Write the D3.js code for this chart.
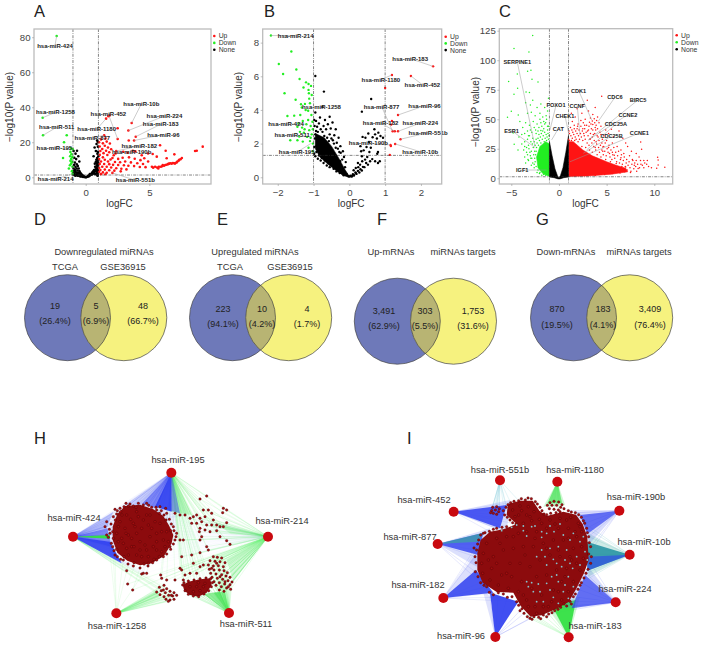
<!DOCTYPE html>
<html><head><meta charset="utf-8">
<script src="https://cdn.jsdelivr.net/npm/d3@7"></script>
<style>html,body{margin:0;padding:0;background:#fff}text{font-family:"Liberation Sans",Arial,sans-serif}</style>
</head><body><svg id="c" width="714" height="650"></svg>
<script>
/* ---------- volcano data: [logFC, -log10 P] ---------- */
const aDown=[[-2.28,80.7],[-3.38,34],[-3.35,24],[-1.49,24],[-1.7,20],[-1.78,11],[-1.15,16.5],[-1.02,16],[-1.2,14.5],[-1.12,13.2],[-1.22,12],[-1.05,11.5],[-1.14,10.4],[-1.2,9.4],[-1.06,8.8],[-1.15,7.8],[-1.24,6.9],[-1.04,6],[-1.32,5],[-1.08,3.5],[-1.03,2]];
const aNone=[[-0.95,15],[-0.8,13.5],[-0.68,15.2],[-0.58,12],[-0.9,11.2],[-0.75,10.4],[-0.5,9],[-0.85,8.4],[-0.7,7.4],[-0.62,6.4],[-0.92,7],[-0.8,6],[-0.95,5],[-0.72,5],[-0.55,5],[-0.85,4.2],[-0.65,3.9],[-0.95,3.4],[-0.8,3.1],[-0.5,3.6],[-0.7,2.6],[-0.9,2.2],[-0.6,2.6],[-0.45,2.8],[-0.38,2.2],[-0.52,1.9],[-0.66,1.7],[-0.8,1.6],[-0.32,1.6],[-0.42,1.3],[-0.25,1.1],[-0.34,0.9],[-0.18,0.7],[-0.28,0.5],[-0.12,0.4],[-0.2,0.2],[-0.06,0.1],[0,0],[0.06,0.1],[0.12,0.3],[0.18,0.5],[0.26,0.6],[0.22,1],[0.3,1],[0.36,1.3],[0.42,1.6],[0.32,1.8],[0.5,1.6],[0.46,2.2],[0.56,2.1],[0.62,2.5],[0.52,2.9],[0.68,3],[0.6,3.5],[0.72,3.7],[0.82,3.4],[0.66,4.2],[0.78,4.6],[0.88,4.1],[0.93,3],[0.95,1.9],[0.86,2.3],[0.78,1.7],[0.7,1.9],[0.92,1.2],[0.98,2.6],[0.96,4],[0.9,5],[0.98,5.4],[0.84,5.6],[0.94,6.2],[0.74,6],[0.88,6.9],[0.98,7],[0.92,7.8],[0.98,8.4],[0.86,8.2],[0.92,9.2],[0.98,9.8],[0.8,8.9],[0.72,7.8],[0.96,10.2],[0.84,10],[0.62,12],[0.8,15],[0.7,17],[0.85,19],[0.95,20.2],[0.9,21],[0.96,17.5],[0.92,13.5],[0.99,12],[0.97,14.5],[0.9,11],[0.98,3.4],[0.94,0.9],[-0.96,2.6],[-0.88,1.5],[-0.72,1.2],[-0.6,1.3],[-0.5,0.9],[-0.62,0.9],[-0.82,0.9],[-0.45,0.6],[-0.98,1.6],[-0.38,0.5]];
const aUp=[[1.78,34.9],[1.86,35.2],[1.6,33.5],[2.51,28],[3.61,31],[3.35,26.7],[3.93,23.2],[2.51,21.9],[3.38,21],[3.8,21],[5.84,18.3],[9.19,17.5],[8.72,15.2],[8.59,15],[6.28,15.2],[6.96,13.1],[6.36,10.9],[5.58,11.8],[5.26,13.3],[4.9,13.6],[4.4,12.6],[3.9,14.8],[3.7,15.2],[3.3,14],[2.95,14.6],[2.4,15],[2.2,12.6],[1.45,24],[1.55,22.2],[1.2,21.6],[1.65,20.4],[1.35,19.4],[1.05,20],[1.9,19.3],[1.5,18],[1.1,17.6],[1.75,17],[1.3,16.2],[2,16],[1.6,15.2],[1.15,15],[1.85,14.3],[2.35,13.6],[1.4,13.8],[1.1,12.8],[1.7,12.7],[2.1,11],[1.35,11.4],[1.95,10.2],[2.55,10.5],[2.9,11.2],[3.4,11.4],[3.85,10.6],[4.3,9.8],[4.6,10.9],[4.9,9],[1.05,10.4],[1.5,10],[1.2,9],[1.75,9],[2.3,8.7],[2.7,8.6],[3.1,9],[3.55,8.5],[4.05,8],[4.5,7.6],[1.1,7.6],[1.45,7.6],[1.85,7.5],[2.15,7.1],[2.55,7],[3,6.9],[3.35,6.6],[3.8,6.4],[4.25,5.9],[4.7,5.8],[1.3,6],[1.65,6],[1.05,5.4],[2,5.6],[2.4,5.2],[2.8,4.9],[3.2,4.5],[1.15,4.2],[1.5,4.4],[1.85,4],[2.25,3.8],[2.75,3.4],[1.05,3],[1.35,2.8],[1.65,2.6],[2.1,2.5],[1.2,1.8],[1.55,1.7],[5.2,6],[5.3,5.5],[5.45,6],[5.6,5.6],[5.7,5],[5.75,6],[5.9,6],[6,6.3],[6.05,7],[6.15,6.6],[6.25,7],[6.35,7.2],[6.45,7.5],[6.5,7.6],[6.55,7.8],[6.65,8],[6.75,7.8],[6.85,8.2],[6.95,8],[7,7.9],[7.05,8.1],[7.15,8.5],[7.2,9],[7.3,9.5],[7.35,10],[7.45,10.3],[7.55,11]];
const bDown=[[-2.19,8.42],[-1.62,7.47],[-1.97,6.73],[-1.85,6.14],[-1.48,6.4],[-1.39,5.84],[-1.21,5.64],[-1.14,5.54],[-1.28,5.33],[-1.07,5.43],[-1.14,5.19],[-1.81,4.99],[-1.13,4.99],[-1.05,4.89],[-1.5,4.61],[-1.12,4.67],[-1.35,4.34],[-1.24,4.36],[-1.1,4.4],[-1.33,4.15],[-1.22,4],[-1.15,3.95],[-1.73,3.64],[-1.54,3.66],[-1.37,3.7],[-1.06,3.7],[-1.3,3.35],[-1.15,3.4],[-1.03,3.3],[-1.42,3.2],[-1.2,3.15],[-1.08,3.05],[-1.32,2.95],[-1.45,3],[-1.25,2.85],[-1.12,2.8],[-1.02,2.85],[-1.38,2.7],[-1.27,2.65],[-1.05,2.55],[-1.4,2.42],[-1.18,2.4],[-1.08,2.35],[-1.65,2.2],[-1.45,2.2],[-1.3,2.12],[-1.1,2.15],[-1.02,2],[-1.14,1.75],[-1.02,1.55]];
const bNone=[[-0.95,6.02],[-0.71,5.09],[-0.75,4.18],[-0.95,3.85],[-0.55,3.6],[-0.82,3.55],[-0.68,3.4],[-0.93,3.35],[-0.47,3.25],[-0.6,3.15],[-0.85,3.2],[-0.72,3.05],[-0.97,3.05],[-0.52,2.9],[-0.38,2.85],[-0.65,2.85],[-0.8,2.85],[-0.93,2.75],[-0.42,2.5],[-0.3,2.35],[-0.55,2.55],[-0.46,2.2],[-0.35,2.05],[-0.25,1.85],[-0.18,1.55],[-0.28,1.5],[-0.15,1.2],[-0.1,0.9],[-0.96,2.3],[-0.98,1.8],[-0.92,1.5],[-0.85,1.3],[-0.77,1.15],[-0.68,1],[-0.58,0.85],[-0.48,0.7],[-0.4,0.55],[-0.32,0.42],[-0.22,0.25],[-0.08,0.2],[-0.02,0.06],[0.03,0.1],[0.07,0.05],[0.1,0.18],[0.13,0.1],[0.17,0.28],[0.2,0.2],[0.24,0.38],[0.28,0.28],[0.31,0.48],[0.35,0.4],[0.38,0.62],[0.25,0.6],[0.18,0.55],[0.12,0.42],[0.3,0.75],[0.42,0.6],[0.47,0.85],[0.36,0.95],[0.24,0.85],[0.52,0.75],[0.44,1.05],[0.58,0.95],[0.5,1.2],[0.35,1.25],[0.64,1.08],[0.72,0.95],[0.8,0.85],[0.85,0.95],[0.78,1.4],[0.8,1.5],[0.56,1.5],[0.33,1.55],[0.4,1.6],[0.6,1.75],[0.48,1.8],[0.31,1.85],[0.55,2.1],[0.37,2.4],[0.65,2.38],[0.72,2.55],[0.7,2.85],[0.77,2.3],[0.87,2.45],[0.94,2.35],[0.81,2.65],[0.35,3.9],[0.61,4.65],[0.53,2.6],[0.45,2.35],[-0.98,3.4],[-0.9,3],[-0.88,2.7],[-0.95,2.55],[-0.75,2.7],[-0.7,2.45],[-0.62,2.35],[-0.57,2.15],[-0.5,2.3],[-0.43,2],[-0.38,1.75],[-0.32,1.7],[-0.24,1.45],[-0.98,1.4],[-0.95,1.25],[-0.88,1.1],[-0.8,1],[-0.72,0.85],[-0.63,0.7],[-0.55,0.6],[-0.44,0.5],[-0.36,0.35],[-0.27,0.25],[-0.16,0.12],[-0.9,2.1],[-0.83,2.35],[-0.76,1.95],[-0.67,2],[-0.2,1.05],[-0.26,0.95],[-0.12,0.6],[-0.7,1.55],[-0.92,1.85],[-0.84,1.65]];
const bUp=[[2.34,6.59],[1.72,6.02],[1.19,6.08],[1,5.31],[1.36,3.7],[1.19,3.35],[1.17,3.13],[1.21,2.73],[1.27,2.73],[1.36,2.73],[1.43,2.26],[1.28,1.98],[1.15,1.92],[1.16,1.86],[1.13,1.33]];
const bNoneCloud=[[-0.95,2.6],[-0.7,2.35],[-0.5,1.85],[-0.3,1.15],[-0.12,0.45],[0,0.05],[0.14,0.18],[0.28,0.45],[0.1,0.05],[0,-0.01],[-0.18,0.12],[-0.38,0.42],[-0.58,0.75],[-0.82,1.2],[-0.95,1.7]];
const cNoneCloud=[[-1,1.2],[-1,31],[-0.72,19],[-0.42,8],[-0.16,2.2],[0,0.3],[0.16,2.4],[0.42,9],[0.72,22],[1,36],[1,1.2],[0.5,0.5],[0.1,-0.5],[-0.1,-0.5],[-0.5,0.5]];
const cDownCloud=[[-1,1.6],[-1,29],[-1.4,31],[-2,27],[-2.35,18],[-2.2,9],[-1.7,4]];
const cUpCloud=[[1,1.6],[1,31],[1.5,31],[2.5,24],[3.5,19],[5,14],[6,11],[7,8.5],[7.2,5.5],[5.5,3.5],[3,2]];
const cDown=[[-2.76,121],[-4.72,110],[-3.15,107],[-3.29,90.7],[-2.94,91.5],[-4.37,88.4],[-2.83,83.9],[-5.28,81.9],[-2.2,81.5],[-4.34,76.3],[-4.72,71.2],[-3.45,73],[-3.1,72.6],[-1.1,67.8],[-5,56.8],[-5.4,51.7],[-4.8,38.4],[-4.7,28.8],[-4.27,53.7],[-4.1,48],[-3.5,64],[-3,62],[-2.75,66],[-2.3,60],[-1.9,63],[-1.5,60],[-1.2,57],[-3.3,55],[-2.9,56],[-2.5,53],[-2,55],[-1.7,52],[-1.3,50],[-3.8,43],[-3.5,47],[-3.1,45],[-2.7,48],[-2.3,46],[-1.9,47],[-1.5,46],[-1.1,44],[-4.2,35],[-3.9,37],[-3.6,38],[-3.3,40],[-3,41],[-2.6,43],[-2.1,43],[-1.6,42],[-1.2,41],[-4.3,24],[-3.9,29],[-3.6,31],[-3.3,33],[-3.1,36],[-3.7,24],[-3.4,26],[-3.2,28],[-3.6,18],[-3.3,20],[-3.05,22],[-3.5,13],[-3.2,15],[-2.95,17],[-2.9,11],[-2.6,9],[-2.3,5],[-2.05,4],[-1.8,2.6],[-2.95,31],[-2.75,34],[-2.4,38],[-1.9,40.5],[-1.05,36],[-1.1,33],[-1.15,38],[-1.25,35],[-1.3,32],[-1.35,37],[-1.45,34],[-1.5,39],[-1.55,31],[-1.65,36],[-1.7,40],[-1.75,33],[-1.85,38],[-1.9,30],[-1.95,35],[-2.05,32],[-2.1,37],[-2.15,28],[-2.2,34],[-2.3,30],[-2.35,26],[-2.4,33],[-2.5,28],[-2.55,23],[-2.6,31],[-2.65,20],[-2.7,26],[-2.8,29],[-2.85,17],[-2.9,23],[-2.5,14],[-2.6,12],[-2.4,10],[-2.75,13],[-2.2,7],[-2,5],[-1.6,3.2],[-1.4,2.6],[-3,19],[-3.15,25],[-3.25,16],[-3.4,22],[-3.6,27],[-2.45,41],[-2.85,39],[-3.2,36],[-2.45,20],[-2.55,17],[-2.4,23],[-1.2,44],[-1.4,47],[-1.8,44],[-2.2,40],[-1.35,53],[-1.6,48],[-2,50]];
const cUp=[[4.48,69.5],[2.97,66],[3.8,60],[2.5,62],[1.9,59],[1.3,55],[3.1,57],[3.55,54],[4.05,52],[2.4,55],[1.7,52],[3.3,51],[3.7,50.5],[3.95,49],[3.5,48.5],[3.2,47.5],[3.75,47],[4.2,47],[3.55,45.5],[3.9,45],[2.75,50],[2.3,49],[1.4,48],[2,46],[2.7,45],[3.15,44],[4.4,44],[4.9,41],[5.5,41.5],[3.4,42],[3.85,41],[2.5,42],[3,40],[4.3,39],[6.3,40],[5.2,38],[4.7,36],[3.6,37],[4.1,35],[5.7,35],[6.7,34],[5,32],[5.6,30],[4.5,30],[3.9,31],[7,30],[8.57,30.8],[6.1,27],[7.2,27],[5.2,26],[4.6,26.5],[8.67,24.6],[6.5,24],[7.6,23],[8.1,21],[5.6,22],[6.8,21],[7.4,19],[8.4,18],[8.9,15],[10.35,17.8],[10.4,15.5],[9.27,15],[11.1,9.3],[10.25,8.5],[10.4,11.3],[9.2,12],[8.6,12],[8.1,15],[7.7,16],[8.3,8.2],[7.9,11],[8.9,9],[7.5,5],[6.9,5.5],[6.4,4.5],[5.6,4],[4.8,3.2],[3.8,2.3],[7.1,16],[6.5,17.5],[5.8,19.5],[5.3,21],[4.6,23],[3.8,26],[3.3,33.5],[2.6,38],[1.9,42],[1.6,45],[1.05,40],[1.1,38],[1.2,43],[1.25,36],[1.35,41],[1.4,34],[1.45,39],[1.55,37],[1.6,42],[1.7,35],[1.75,40],[1.8,33],[1.9,38],[1.95,44],[2.05,36],[2.1,41],[2.15,33],[2.25,38],[2.3,44],[2.35,35],[2.45,40],[2.5,32],[2.55,47],[2.65,36],[2.7,42],[2.75,33],[2.85,39],[2.9,45],[2.95,30],[3.05,36],[3.1,41],[3.15,28],[3.25,33],[3.3,38],[3.35,46],[3.45,30],[3.5,35],[3.55,41],[3.65,27],[3.7,32],[3.75,38],[3.8,43],[3.85,24],[3.95,29],[4,36],[4.05,42],[4.15,26],[4.2,32],[4.25,22],[4.35,28],[4.4,37],[4.5,24],[4.55,33],[4.65,20],[4.7,27],[4.8,23],[4.85,30],[4.95,19],[5.05,25],[5.15,22],[5.25,28],[5.35,18],[5.45,24],[5.55,16],[5.65,20],[5.75,26],[5.85,17],[5.95,22],[6.05,14],[6.15,19],[6.25,23],[6.35,13],[6.45,16],[6.55,20],[6.65,12],[6.75,15],[6.85,18],[6.95,10],[7.05,13],[7.15,7],[7.25,11],[7.35,14],[7.45,9],[7.55,6],[7.65,12],[7.75,15],[7.85,8],[7.95,13],[8.05,10],[8.15,6],[8.25,12],[8.45,9],[8.55,15],[8.75,11],[9,13],[9.4,10],[9.7,9],[1.02,33],[1.08,32],[1.3,32],[1.65,32],[2,31],[2.4,27],[2.8,26],[3.2,24],[3.5,22],[4,20],[4.4,18],[4.9,16],[5.4,14],[6,12.5],[6.6,10],[7,9.5]];
/* ---------- annotations: [label, point x, point y, label x, label y] in data units ---------- */
const aLabels=[["hsa-miR-424",-2.28,80.7,-2.41,75.2],["hsa-miR-1258",-3.38,34,-2.38,37.1],["hsa-miR-511",-3.35,24,-2.28,28.6],["hsa-miR-195",-1.1,16,-2.46,16.8],["hsa-miR-214",-1.05,2,-2.36,-1.1],["hsa-miR-10b",3.61,31,4.37,41.9],["hsa-miR-224",3.35,26.7,6.18,35],["hsa-miR-183",3.93,23.2,5.89,30.3],["hsa-miR-96",3.8,21,6.1,24.4],["hsa-miR-452",2.51,21.9,1.78,36],["hsa-miR-1180",1.6,33.5,0.86,27.4],["hsa-miR-877",1.45,24,0.52,22.5],["hsa-miR-182",2.4,15,4.21,17.9],["hsa-miR-190b",3.7,15.2,3.61,14.3],["hsa-miR-551b",2.1,2.5,3.9,-1.7]];
const bLabels=[["hsa-miR-214",-2.19,8.42,-1.5,8.42],["hsa-miR-1258",-0.75,4.18,-0.78,4.18],["hsa-miR-424",-1.2,3.15,-1.77,3.17],["hsa-miR-511",-1.18,2.4,-1.6,2.5],["hsa-miR-195",-1.08,2.0,-1.47,1.48],["hsa-miR-183",2.34,6.59,1.7,7.05],["hsa-miR-1180",1.19,6.08,0.88,5.8],["hsa-miR-452",1.72,6.02,2.04,5.5],["hsa-miR-877",1.21,2.73,0.9,4.21],["hsa-miR-96",1.36,3.7,2.1,4.25],["hsa-miR-182",1.27,2.73,0.87,3.25],["hsa-miR-224",1.36,2.73,1.98,3.22],["hsa-miR-551b",1.43,2.26,2.2,2.65],["hsa-miR-190b",1.15,1.92,0.53,2.02],["hsa-miR-10b",1.28,1.98,1.98,1.52]];
const cLabels=[["SERPINE1",-2.52,26.8,-4.37,98.3],["ESR1",-2.5,26,-4.97,40.4],["IGF1",-1.3,7,-3.85,7],["FOXO1",-0.94,41,-0.31,61.9],["CAT",-0.77,32.5,-0.07,42],["CHEK1",1.05,36.7,0.63,53],["CDK1",3.43,49.4,2.06,74.3],["CCNF",2.2,36.7,1.92,61.3],["CDC6",4.1,48,5.87,68.6],["BIRC5",3.08,32.5,8.3,66.4],["CCNE2",3.08,32.5,7.24,54],["CDC25A",2.9,24,5.98,46],["CDC25B",2.55,21.2,5.52,35.9],["CCNE1",1.15,14,8.43,38.4]];
const legendKeys=["Up","Down","None"];
/* ---------- venn data ---------- */
const vennSets=[
 {letter:"D",title:"Downregulated miRNAs",left:"TCGA",right:"GSE36915",counts:["19","5","48"],pcts:["(26.4%)","(6.9%)","(66.7%)"]},
 {letter:"E",title:"Upregulated miRNAs",left:"TCGA",right:"GSE36915",counts:["223","10","4"],pcts:["(94.1%)","(4.2%)","(1.7%)"]},
 {letter:"F",title:"",left:"Up-mRNAs",right:"miRNAs targets",counts:["3,491","303","1,753"],pcts:["(62.9%)","(5.5%)","(31.6%)"]},
 {letter:"G",title:"",left:"Down-mRNAs",right:"miRNAs targets",counts:["870","183","3,409"],pcts:["(19.5%)","(4.1%)","(76.4%)"]}];
/* ---------- network H, layout units ---------- */
const hHubs=[["hsa-miR-195",514,218],["hsa-miR-424",219,410],["hsa-miR-214",804,410],["hsa-miR-1258",349,640],["hsa-miR-511",687,639]];
const hMainOutline=[[375,318],[420,314],[460,328],[490,348],[508,378],[520,405],[515,430],[492,468],[455,490],[420,496],[382,482],[352,458],[338,420],[338,380],[352,342]];
const hMain=[[378,310],[372,320],[385,318],[345,328],[360,325],[350,342],[320,365],[315,380],[328,388],[320,405],[325,412],[338,440],[345,465],[370,480],[380,512],[430,520],[440,520],[425,522],[445,490],[470,480],[490,470],[510,440],[525,420],[530,400],[520,380],[497,325],[480,320],[440,310],[415,310],[470,330],[500,340],[525,340],[540,345],[555,345],[400,318],[430,315],[455,322],[478,340],[498,360],[512,392],[505,425],[485,455],[462,478],[432,492],[402,488],[372,470],[350,448],[340,415],[338,395],[346,360],[362,335],[380,345],[410,335],[440,345],[465,365],[485,395],[470,425],[440,450],[410,465],[380,445],[365,415],[375,385],[400,370],[425,385],[450,410],[420,425],[395,415],[360,365],[395,440],[430,360],[455,385],[490,420],[470,450],[350,400],[385,465],[445,470],[415,350],[378,400],[500,395],[410,400],[435,435],[390,312],[408,322],[446,316],[468,322],[484,332],[492,345],[508,358],[514,372],[522,392],[528,410],[520,432],[512,448],[500,462],[478,470],[458,488],[444,498],[420,504],[400,498],[384,492],[362,478],[352,470],[342,452],[334,430],[330,400],[333,372],[340,350],[352,332],[366,345],[392,358],[355,380],[370,430],[420,450],[460,440],[480,370],[445,375],[405,380],[385,405],[355,425],[402,440],[425,470],[450,345],[470,400],[495,440]];
const hSparse=[[620,288],[600,297],[670,325],[680,330],[668,338],[610,330],[625,330],[635,340],[590,345],[580,350],[570,355],[600,355],[615,350],[640,360],[575,370],[590,370],[605,365],[620,375],[635,375],[650,375],[660,380],[680,368],[670,380],[600,385],[615,390],[630,395],[650,392],[598,395],[680,422],[690,433],[605,410],[600,420],[620,440],[625,450],[600,458],[575,465],[545,470],[540,420],[550,420],[660,410],[610,495],[580,490],[600,500],[590,520],[570,520],[545,510],[540,505],[555,525],[525,540],[500,540],[482,525],[485,535],[550,540],[383,552],[398,570]];
const hHalfOutline=[[548,555],[565,545],[600,538],[630,535],[635,555],[620,578],[595,590],[570,585],[553,572]];
const hHalf=[[548,555],[552,548],[565,543],[582,540],[600,536],[618,534],[632,536],[637,548],[634,560],[626,572],[612,582],[596,590],[580,588],[565,583],[555,572],[590,560],[610,560],[570,560],[580,575],[600,572],[615,550],[595,548]];
const hWedge=[[640,470],[652,472],[665,474],[630,482],[645,484],[660,485],[675,488],[625,495],[640,498],[655,497],[670,500],[628,508],[642,510],[658,510],[672,512],[682,518],[632,520],[648,522],[665,524],[678,528],[690,532],[636,532],[652,535],[668,538],[684,542],[696,546],[642,545],[658,548],[674,552],[690,554],[648,556],[664,560],[680,564],[692,568],[658,570],[672,574],[650,490],[635,505],[660,530],[675,545],[685,560]];
const hSmall=[[492,556],[478,562],[500,566],[470,576],[484,572],[496,578],[510,574],[522,578],[480,584],[492,590],[506,586],[518,588],[530,586],[498,598],[510,600],[522,598],[505,604],[490,570],[514,586]];
const hLinks=[["hsa-miR-424",hMain,"#3344ee",.16],["hsa-miR-195",hMain,"#3344ee",.16],["hsa-miR-214",hMain,"#3344ee",.03],["hsa-miR-195",hSparse,"#55ee66",.3],["hsa-miR-214",hSparse,"#55ee66",.35],["hsa-miR-214",hWedge,"#55ee66",.4],["hsa-miR-511",hHalf,"#55ee66",.5],["hsa-miR-511",hWedge,"#55ee66",.4],["hsa-miR-1258",hSmall,"#55ee66",.5],["hsa-miR-424",hSmall,"#55ee66",.2],["hsa-miR-195",hHalf,"#55ee66",.22],["hsa-miR-1258",hMain.slice(10,16),"#55ee66",.3]];
const hFans=[[[219,410],[330,425],[365,490],"#3040f0",.9],[[219,410],[322,385],[335,440],"#3040f0",.55],[[219,410],[340,335],[320,385],"#5060f0",.35],[[219,410],[380,495],[340,470],"#5060f0",.35],[[219,410],[330,405],[330,416],"#30e040",.95],[[514,218],[465,320],[515,335],"#3040f0",.92],[[514,218],[425,312],[470,325],"#3040f0",.6],[[514,218],[375,315],[425,315],"#5060f0",.28],[[514,218],[515,335],[575,345],"#40e050",.3],[[514,218],[505,330],[540,340],"#3040f0",.45],[[804,410],[640,365],[690,400],"#40e050",.22],[[804,410],[680,480],[700,545],"#40e050",.22],[[687,639],[610,582],[660,575],"#40e050",.55],[[687,639],[640,578],[675,575],"#40e050",.55],[[349,640],[472,570],[478,592],"#40e050",.3]];
/* ---------- network I, layout units ---------- */
const iHubs=[["hsa-miR-551b",450,241],["hsa-miR-1180",622,245],["hsa-miR-190b",808,332],["hsa-miR-10b",839,464],["hsa-miR-224",797,607],["hsa-miR-183",656,712],["hsa-miR-96",436,711],["hsa-miR-182",280,594],["hsa-miR-877",263,432],["hsa-miR-452",311,335]];
const iOutline=[[392,420],[420,395],[460,388],[500,372],[470,345],[474,312],[510,302],[548,302],[568,332],[590,348],[640,335],[678,344],[698,372],[712,410],[716,480],[702,520],[678,568],[656,606],[620,626],[575,646],[542,650],[512,618],[490,578],[440,576],[398,548],[382,510],[382,460]];
const iNodes=[[392,405],[400,400],[380,450],[375,470],[383,432],[376,515],[392,548],[410,560],[418,577],[445,578],[472,592],[500,605],[510,632],[522,640],[540,655],[552,650],[566,652],[580,645],[596,642],[614,632],[632,622],[650,618],[660,604],[670,590],[684,568],[694,548],[708,520],[722,490],[716,462],[722,440],[716,410],[710,385],[704,370],[694,352],[676,338],[655,332],[630,335],[602,340],[582,342],[570,322],[556,305],[544,296],[526,300],[506,302],[482,308],[468,322],[464,345],[480,360],[498,372],[470,380],[440,385],[418,394],[488,330],[510,318],[535,320],[552,335],[530,345],[506,345],[520,370],[545,362],[568,358],[600,360],[630,355],[662,352],[685,370],[695,395],[680,410],[655,385],[625,385],[590,385],[560,395],[530,395],[505,400],[470,410],[440,415],[410,430],[400,460],[395,490],[398,520],[420,540],[445,555],[475,565],[505,575],[530,600],[555,620],[580,620],[605,605],[635,600],[655,575],[670,545],[690,510],[700,475],[695,440],[670,445],[640,420],[610,420],[580,430],[550,440],[520,440],[490,445],[460,450],[430,470],[425,505],[455,525],[485,530],[515,545],[545,565],[575,585],[610,570],[635,545],[650,505],[665,480],[630,470],[600,465],[570,480],[540,500],[510,490],[480,490],[560,530],[590,525],[620,510],[386,420],[372,444],[378,488],[384,530],[402,556],[430,584],[460,582],[486,590],[506,616],[516,626],[532,650],[546,658],[572,656],[590,650],[606,638],[624,628],[642,612],[664,612],[676,582],[690,556],[702,534],[714,508],[724,470],[718,428],[712,398],[700,362],[686,344],[664,336],[642,326],[618,338],[590,344],[576,332],[562,312],[534,294],[514,296],[492,304],[474,314],[460,332],[472,352],[488,368],[456,382],[430,388],[405,398],[690,380],[675,395],[650,360],[615,372],[575,370],[540,350],[515,332],[495,350],[660,470],[680,490],[645,530],[625,575],[595,620],[560,640],[535,620],[520,585],[470,520],[440,490],[415,480],[450,430],[490,410],[525,465],[555,415],[590,445],[625,450],[655,415]];
const iTeal=[[500,375],[520,378],[545,380],[520,392],[485,382],[455,392],[590,400],[612,395],[640,405],[660,420],[690,425],[705,455],[712,480],[680,470],[650,450],[625,440],[600,445],[575,412],[560,470],[590,495],[620,490],[655,530],[640,575],[610,592],[580,605],[550,575],[545,548],[565,552],[590,550],[530,545],[625,545],[668,505],[605,530],[645,480],[530,408],[555,378],[575,395],[600,378],[630,372],[670,400],[700,410],[575,450],[610,478],[635,500],[660,490],[690,495],[585,470],[620,525],[645,555],[670,560],[600,570],[570,575],[535,560],[560,605],[625,610],[655,595]];
const iSmallA=[[428,322],[440,320],[448,326],[425,332],[436,330],[446,335],[430,340],[440,343],[422,338]];
const iSmallB=[[600,308],[612,304],[626,306],[636,314],[592,316],[606,316],[620,316],[632,322],[598,326],[612,328],[625,330]];
const iLinks=[["hsa-miR-551b",iSmallA,"#7fc8d8",.7],["hsa-miR-551b",iNodes.slice(43,48),"#7fc8d8",.6],["hsa-miR-1180",iSmallB,"#44ee55",.6],["hsa-miR-190b",iNodes.slice(28,36),"#3344ee",.4],["hsa-miR-10b",iNodes.slice(25,33),"#22aaaa",.4],["hsa-miR-224",iNodes.slice(18,28),"#3344ee",.4],["hsa-miR-183",iNodes.slice(13,20),"#44ee55",.5],["hsa-miR-96",iNodes.slice(8,16),"#3344ee",.4],["hsa-miR-182",iNodes.slice(2,12),"#3344ee",.3],["hsa-miR-877",iNodes.slice(0,7),"#3344ee",.35],["hsa-miR-452",iNodes.slice(44,53),"#3344ee",.3]];
const iFans=[[[311,335],[480,300],[470,400],"#6070f0",.22],[[311,335],[470,315],[450,385],"#3040f0",.85],[[263,432],[420,385],[380,500],"#6070f0",.22],[[263,432],[400,398],[385,465],"#3040f0",.8],[[263,432],[400,398],[385,425],"#30c080",.5],[[280,594],[378,510],[430,578],"#3040f0",.88],[[280,594],[378,460],[400,560],"#5060f0",.2],[[436,711],[420,578],[505,605],"#3040f0",.92],[[436,711],[395,560],[420,590],"#5060f0",.18],[[656,712],[590,620],[690,590],"#40e050",.25],[[656,712],[605,615],[678,600],"#35e045",.95],[[797,607],[715,500],[640,625],"#6070f0",.25],[[797,607],[705,525],[665,625],"#3040f0",.7],[[839,464],[715,400],[715,530],"#40b0a0",.25],[[839,464],[710,425],[712,512],"#2090a0",.85],[[839,464],[712,470],[712,512],"#3040f0",.6],[[808,332],[670,335],[720,430],"#6070f0",.25],[[808,332],[690,345],[712,402],"#3040f0",.7],[[622,245],[580,320],[645,315],"#40e050",.25],[[622,245],[592,310],[636,310],"#40e050",.6]];

/* ---------- colours ---------- */
const RED="#ff1414",GREEN="#22ee22",BLACK="#000";
const svg=d3.select("#c");
svg.append("rect").attr("width",714).attr("height",650).attr("fill","#fff");

function panelLetter(t,x,y){svg.append("text").attr("x",x).attr("y",y).attr("font-size",16.5).attr("fill","#222").text(t);}

function volcano(p){
  const g=svg.append("g");
  const x=d3.scaleLinear().domain(p.xd).range([p.l,p.r]);
  const y=d3.scaleLinear().domain(p.yd).range([p.b,p.t]);
  const line=d3.line().x(d=>x(d[0])).y(d=>y(d[1]));
  const clipId="clip"+p.letter;
  g.append("clipPath").attr("id",clipId).append("rect").attr("x",p.l).attr("y",p.t).attr("width",p.r-p.l).attr("height",p.b-p.t);
  const plot=g.append("g").attr("clip-path",`url(#${clipId})`);
  (p.clouds||[]).forEach(c=>plot.append("path").attr("d",line(c.pts)+"Z").attr("fill",c.color).attr("stroke",c.color).attr("stroke-width",.6));
  p.series.forEach(s=>plot.append("g").attr("fill",s.color).selectAll("circle").data(s.pts).join("circle")
     .attr("cx",d=>x(d[0])).attr("cy",d=>y(d[1])).attr("r",p.dot));
  const dash="3,1.2,.8,1.2";
  [-1,1].forEach(v=>plot.append("line").attr("x1",x(v)).attr("x2",x(v)).attr("y1",p.t).attr("y2",p.b).attr("stroke","#333").attr("stroke-width",.6).attr("stroke-dasharray",dash));
  plot.append("line").attr("x1",p.l).attr("x2",p.r).attr("y1",y(1.3)).attr("y2",y(1.3)).attr("stroke","#333").attr("stroke-width",.6).attr("stroke-dasharray",dash);
  const ann=g.append("g");
  ann.selectAll("line").data(p.labels).join("line")
    .attr("x1",d=>x(d[1])).attr("y1",d=>y(d[2])).attr("x2",d=>x(d[3])).attr("y2",d=>y(d[4]))
    .attr("stroke","#999").attr("stroke-width",.5);
  ann.selectAll("text").data(p.labels).join("text")
    .attr("x",d=>x(d[3])).attr("y",d=>y(d[4])+2.1).attr("text-anchor","middle")
    .attr("font-size",p.labelSize).attr("font-weight","bold").attr("fill","#222").text(d=>d[0]);
  g.append("rect").attr("x",p.l).attr("y",p.t).attr("width",p.r-p.l).attr("height",p.b-p.t).attr("fill","none").attr("stroke","#bcbcbc").attr("stroke-width",1.3);
  const xa=g.append("g").attr("transform",`translate(0,${p.b})`).call(d3.axisBottom(x).tickValues(p.xt).tickSize(2).tickPadding(3).tickFormat(d=>String(d).replace("-","\u2212")));
  const ya=g.append("g").attr("transform",`translate(${p.l},0)`).call(d3.axisLeft(y).tickValues(p.yt).tickSize(2).tickPadding(1.5));
  [xa,ya].forEach(a=>{a.select(".domain").remove();a.selectAll("line").attr("stroke","#999").attr("stroke-width",.6);a.selectAll("text").attr("font-size",9.6).attr("fill","#444").attr("font-family",'"Liberation Sans",Arial,sans-serif');});
  g.append("text").attr("x",(p.l+p.r)/2+p.xlabOff).attr("y",207).attr("text-anchor","middle").attr("font-size",10).attr("fill","#333").text("logFC");
  g.append("text").attr("transform",`translate(${p.ylabX},${p.ylabY}) rotate(-90)`).attr("text-anchor","middle").attr("font-size",10).attr("fill","#333").text("\u2212log10(P value)");
  const cols=[RED,GREEN,BLACK];
  legendKeys.forEach((k,i)=>{
    const ly=p.legY+i*p.legStep;
    g.append("circle").attr("cx",p.legDot).attr("cy",ly).attr("r",1.3).attr("fill",cols[i]);
    g.append("text").attr("x",p.legDot+4.4).attr("y",ly+2.4).attr("font-size",6.8).attr("fill","#333").text(k);
  });
}
volcano({letter:"A",l:34,r:211,t:29,b:184,xd:[-4.06,9.84],yd:[-3.83,84.7],xt:[0,5],yt:[0,20,40,60,80],dot:1.3,labelSize:6,labels:aLabels,
  series:[{color:BLACK,pts:aNone},{color:GREEN,pts:aDown},{color:RED,pts:aUp}],xlabOff:-3,ylabX:13,ylabY:107,legDot:214.3,legY:36,legStep:6.9});
volcano({letter:"B",l:262.7,r:441.7,t:29,b:184,xd:[-2.42,2.58],yd:[-.4,8.81],xt:[-2,-1,0,1,2],yt:[0,2,4,6,8],dot:1.2,labelSize:6,labels:bLabels,
  clouds:[{color:BLACK,pts:bNoneCloud}],
  series:[{color:BLACK,pts:bNone},{color:GREEN,pts:bDown},{color:RED,pts:bUp}],xlabOff:-1,ylabX:242,ylabY:107,legDot:445.7,legY:36.7,legStep:6.7});
volcano({letter:"C",l:499.3,r:672.7,t:28.7,b:184,xd:[-6.26,11.93],yd:[-4.83,126.7],xt:[-5,0,5,10],yt:[0,25,50,75,100,125],dot:.75,labelSize:5.6,labels:cLabels,
  clouds:[{color:GREEN,pts:cDownCloud},{color:RED,pts:cUpCloud},{color:BLACK,pts:cNoneCloud}],
  series:[{color:GREEN,pts:cDown},{color:RED,pts:cUp}],xlabOff:-.5,ylabX:479,ylabY:112,legDot:676.7,legY:35.3,legStep:7});
panelLetter("A",34,17);panelLetter("B",264,17);panelLetter("C",499,17);

/* ---------- venn ---------- */
const vennLayout=[{cx:[67.5,123.8],cy:317.7,lx:34,tx:104,ty:255,hy:270,hx:[65,123],numY:[309,324]},
 {cx:[232.5,288.7],cy:317.7,lx:217,tx:255,ty:255,hy:270,hx:[230,290],numY:[312,327]},
 {cx:[397.3,453.5],cy:321.2,lx:377,tx:null,ty:0,hy:255,hx:[391,463],numY:[314,329]},
 {cx:[573.5,629.7],cy:317.8,lx:536,tx:null,ty:0,hy:255,hx:[566,639],numY:[312,328]}];
const textX=[[55,96,143],[223,262,307],[384,425,473],[557,603,650]];
vennSets.forEach((v,i)=>{
  const L=vennLayout[i],g=svg.append("g"),r=43;
  const id="vclip"+i;
  g.append("clipPath").attr("id",id).append("circle").attr("cx",L.cx[0]).attr("cy",L.cy).attr("r",r);
  g.append("circle").attr("cx",L.cx[0]).attr("cy",L.cy).attr("r",r).attr("fill","#6e79b9");
  g.append("circle").attr("cx",L.cx[1]).attr("cy",L.cy).attr("r",r).attr("fill","#f6f27f");
  g.append("circle").attr("cx",L.cx[1]).attr("cy",L.cy).attr("r",r).attr("fill","#b8b473").attr("clip-path",`url(#${id})`);
  L.cx.forEach(c=>g.append("circle").attr("cx",c).attr("cy",L.cy).attr("r",r).attr("fill","none").attr("stroke","#444").attr("stroke-width",.7));
  v.counts.forEach((t,j)=>{
    g.append("text").attr("x",textX[i][j]).attr("y",L.numY[0]).attr("text-anchor","middle").attr("font-size",9).attr("fill","#222").text(t);
    g.append("text").attr("x",textX[i][j]).attr("y",L.numY[1]).attr("text-anchor","middle").attr("font-size",9).attr("fill","#222").text(v.pcts[j]);
  });
  if(v.title)g.append("text").attr("x",L.tx).attr("y",L.ty).attr("text-anchor","middle").attr("font-size",9.3).attr("fill","#333").text(v.title);
  g.append("text").attr("x",L.hx[0]).attr("y",L.hy).attr("text-anchor","middle").attr("font-size",9.3).attr("fill","#333").text(v.left);
  g.append("text").attr("x",L.hx[1]).attr("y",L.hy).attr("text-anchor","middle").attr("font-size",9.3).attr("fill","#333").text(v.right);
  panelLetter(v.letter,L.lx,225);
});

/* ---------- networks ---------- */
function network(n){
  const g=svg.append("g");
  const x=d3.scaleLinear().domain([0,1020]).range([n.ox,n.ox+340]);
  const y=d3.scaleLinear().domain([0,750]).range([400,650]);
  const hub=new Map(n.hubs.map(h=>[h[0],h]));
  n.links.forEach(l=>{const h=hub.get(l[0]);
    g.append("g").attr("stroke",l[2]).attr("stroke-opacity",l[3]).attr("stroke-width",.35).selectAll("line").data(l[1]).join("line")
      .attr("x1",x(h[1])).attr("y1",y(h[2])).attr("x2",d=>x(d[0])).attr("y2",d=>y(d[1]));});
  const line=d3.line().x(d=>x(d[0])).y(d=>y(d[1]));
  n.fans.forEach(f=>g.append("path").attr("d",line(f.slice(0,3))+"Z").attr("fill",f[3]).attr("fill-opacity",f[4]));
  n.blobs.forEach(b=>g.append("path").attr("d",line(b)+"Z").attr("fill","#8c0b0d"));
  n.nodes.forEach(s=>g.append("g").attr("fill","#a50d10").attr("stroke","#3a0505").attr("stroke-width",.35).selectAll("circle").data(s).join("circle")
     .attr("cx",d=>x(d[0])).attr("cy",d=>y(d[1])).attr("r",1.25));
  if(n.flecks)g.append("g").attr("fill","#86c3cc").selectAll("circle").data(n.flecks).join("circle").attr("cx",d=>x(d[0])).attr("cy",d=>y(d[1])).attr("r",.9);
  g.append("g").attr("fill","#c9090f").selectAll("circle").data(n.hubs).join("circle").attr("cx",d=>x(d[1])).attr("cy",d=>y(d[2])).attr("r",5);
  g.append("g").selectAll("text").data(n.labelPos).join("text").attr("x",d=>d[1]).attr("y",d=>d[2]).attr("text-anchor","middle").attr("font-size",9.3).attr("fill","#333").text(d=>d[0]);
}
const hLabelPos=[["hsa-miR-195",178,463],["hsa-miR-424",74,521],["hsa-miR-214",282,524],["hsa-miR-1258",117,629],["hsa-miR-511",246,627]];
const iLabelPos=[["hsa-miR-551b",500,473],["hsa-miR-1180",575,473],["hsa-miR-190b",636,500],["hsa-miR-10b",644,545],["hsa-miR-224",625,592],["hsa-miR-183",595,629],["hsa-miR-96",461,639],["hsa-miR-182",418,588],["hsa-miR-877",410,540],["hsa-miR-452",424,503]];
network({ox:0,hubs:hHubs,links:hLinks,fans:hFans,blobs:[hMainOutline,hHalfOutline],nodes:[hMain,hSparse,hHalf,hWedge,hSmall],labelPos:hLabelPos});
network({ox:350,hubs:iHubs,links:iLinks,fans:iFans,blobs:[iOutline],nodes:[iNodes,iSmallA,iSmallB],flecks:iTeal,labelPos:iLabelPos});
panelLetter("H",34,444);panelLetter("I",407,444);
</script></body></html>
